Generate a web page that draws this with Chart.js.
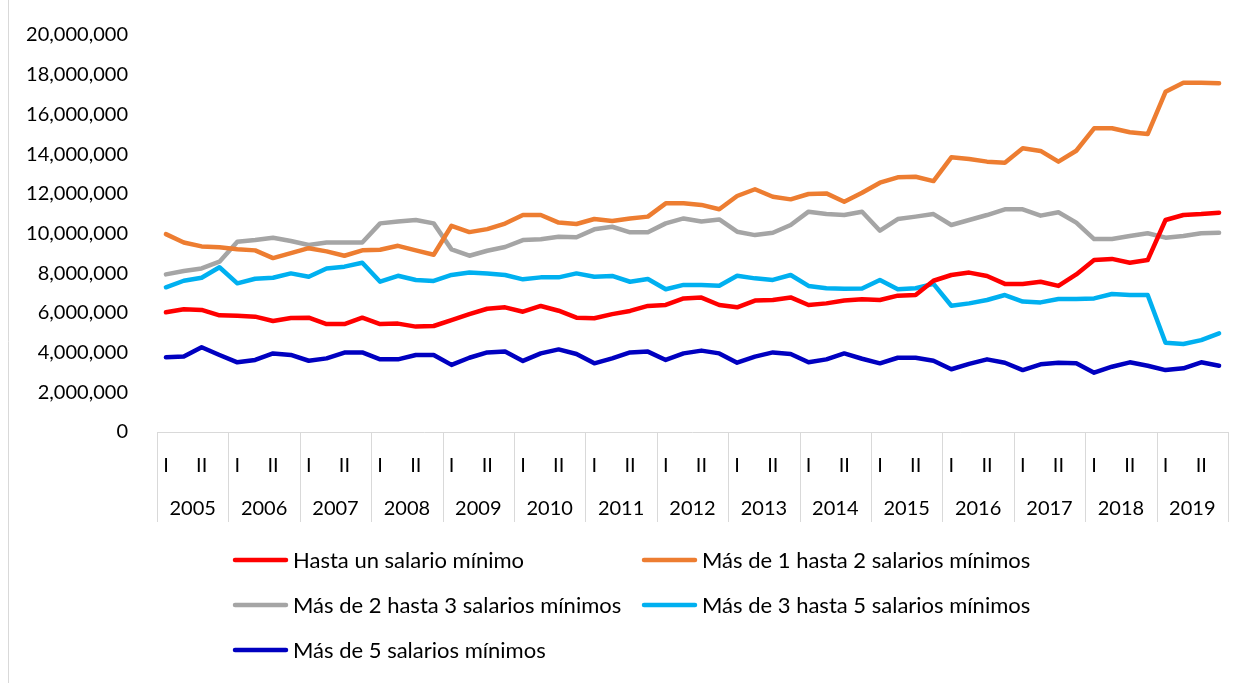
<!DOCTYPE html>
<html>
<head>
<meta charset="utf-8">
<script src="https://cdn.jsdelivr.net/npm/chart.js@4/dist/chart.umd.min.js"></script>
<style>
  html, body { margin: 0; padding: 0; background: #fff; }
  #wrap { position: relative; width: 1253px; height: 683px; }
</style>
</head>
<body>
<div id="wrap"><canvas id="c" width="1253" height="683"></canvas></div>
<script>
// ---- Data ----
const years = ["2005","2006","2007","2008","2009","2010","2011","2012","2013","2014","2015","2016","2017","2018","2019"];
const periodLabels = ["I", "", "II", ""];
const seriesNames = [
  "Hasta un salario mínimo",
  "Más de 1 hasta 2 salarios mínimos",
  "Más de 2 hasta 3 salarios mínimos",
  "Más de 3 hasta 5 salarios mínimos",
  "Más de 5 salarios mínimos"
];
const hastaUno = [
  6030000, 6180000, 6150000, 5880000, 5860000, 5810000, 5590000, 5740000, 5760000, 5440000,
  5440000, 5760000, 5440000, 5460000, 5310000, 5340000, 5640000, 5940000, 6210000, 6280000,
  6060000, 6350000, 6110000, 5760000, 5730000, 5940000, 6100000, 6350000, 6400000, 6730000,
  6770000, 6400000, 6280000, 6620000, 6650000, 6780000, 6400000, 6480000, 6620000, 6690000,
  6650000, 6870000, 6900000, 7620000, 7910000, 8030000, 7860000, 7460000, 7460000, 7570000,
  7360000, 7940000, 8660000, 8720000, 8530000, 8660000, 10680000, 10930000, 10980000, 11050000
];
const unoADos = [
  9970000, 9550000, 9350000, 9310000, 9210000, 9150000, 8760000, 9010000, 9260000, 9100000,
  8880000, 9150000, 9180000, 9380000, 9150000, 8930000, 10390000, 10070000, 10220000, 10500000,
  10930000, 10930000, 10550000, 10480000, 10730000, 10630000, 10760000, 10850000, 11520000, 11520000,
  11440000, 11220000, 11890000, 12230000, 11850000, 11720000, 11990000, 12020000, 11600000, 12050000,
  12560000, 12830000, 12860000, 12640000, 13840000, 13750000, 13620000, 13570000, 14290000, 14160000,
  13620000, 14170000, 15300000, 15300000, 15100000, 15010000, 17140000, 17600000, 17600000, 17570000
];
const dosATres = [
  7940000, 8110000, 8240000, 8580000, 9590000, 9670000, 9790000, 9620000, 9420000, 9550000,
  9550000, 9550000, 10510000, 10600000, 10680000, 10510000, 9200000, 8880000, 9130000, 9320000,
  9670000, 9710000, 9840000, 9810000, 10210000, 10340000, 10060000, 10060000, 10510000, 10760000,
  10600000, 10710000, 10090000, 9920000, 10040000, 10430000, 11100000, 10980000, 10930000, 11100000,
  10140000, 10730000, 10850000, 10980000, 10430000, 10680000, 10930000, 11220000, 11220000, 10900000,
  11070000, 10550000, 9720000, 9720000, 9870000, 10010000, 9790000, 9870000, 10010000, 10040000
];
const tresACinco = [
  7290000, 7620000, 7770000, 8300000, 7490000, 7720000, 7770000, 7990000, 7820000, 8240000,
  8330000, 8530000, 7570000, 7870000, 7660000, 7610000, 7910000, 8030000, 7990000, 7910000,
  7690000, 7790000, 7790000, 7990000, 7820000, 7860000, 7570000, 7710000, 7190000, 7410000,
  7410000, 7370000, 7870000, 7740000, 7660000, 7910000, 7360000, 7240000, 7220000, 7230000,
  7660000, 7190000, 7240000, 7460000, 6360000, 6480000, 6650000, 6900000, 6570000, 6530000,
  6700000, 6700000, 6730000, 6950000, 6900000, 6900000, 4500000, 4430000, 4630000, 4970000
];
const masDeCinco = [
  3760000, 3800000, 4270000, 3880000, 3510000, 3630000, 3960000, 3880000, 3590000, 3710000,
  4000000, 4010000, 3660000, 3660000, 3880000, 3880000, 3380000, 3740000, 4010000, 4050000,
  3580000, 3960000, 4160000, 3930000, 3460000, 3710000, 4010000, 4050000, 3630000, 3960000,
  4100000, 3960000, 3490000, 3800000, 4010000, 3930000, 3510000, 3660000, 3960000, 3690000,
  3460000, 3740000, 3740000, 3590000, 3160000, 3430000, 3660000, 3490000, 3120000, 3410000,
  3490000, 3460000, 2990000, 3290000, 3510000, 3340000, 3120000, 3210000, 3510000, 3340000
];
const yTicks = [0, 2000000, 4000000, 6000000, 8000000, 10000000, 12000000, 14000000, 16000000, 18000000, 20000000];

// ---- Build labels (one per quarter) ----
const labels = [];
years.forEach(function (y) { periodLabels.forEach(function (p) { labels.push(p); }); });

const colors = ["#FF0000", "#ED7D31", "#A5A5A5", "#00B0F0", "#0000C0"];
const values = [hastaUno, unoADos, dosATres, tresACinco, masDeCinco];

const FONT = "Lato";
const FS = 20;
const LEG_FS = 22;
const PLOT_TOP = 35;

const decorPlugin = {
  id: "decor",
  afterLayout(chart) {
    const ys = chart.scales.y;
    const ca = chart.chartArea;
    if (ys && ys.top !== PLOT_TOP) {
      ys.top = PLOT_TOP;
      ys.height = ys.bottom - PLOT_TOP;
      ys.configure();
      ca.top = PLOT_TOP;
      ca.height = ca.bottom - PLOT_TOP;
    }
  },
  beforeDatasetsDraw(chart) {
    const ctx = chart.ctx;
    const ca = chart.chartArea;
    const xs = chart.scales.x;
    ctx.save();
    ctx.strokeStyle = "#d9d9d9";
    ctx.lineWidth = 1;
    ctx.beginPath();
    ctx.moveTo(8.5, 0);
    ctx.lineTo(8.5, 683);
    ctx.stroke();
    ctx.beginPath();
    ctx.moveTo(ca.left, Math.round(ca.bottom) + 0.5);
    ctx.lineTo(ca.right, Math.round(ca.bottom) + 0.5);
    ctx.stroke();
    const n = periodLabels.length;
    const bounds = [];
    for (let k = 0; k <= years.length; k++) {
      let x;
      if (k === 0) x = ca.left;
      else if (k === years.length) x = ca.right;
      else x = (xs.getPixelForValue(k * n - 1) + xs.getPixelForValue(k * n)) / 2;
      bounds.push(x);
      ctx.beginPath();
      ctx.moveTo(Math.round(x) + 0.5, ca.bottom);
      ctx.lineTo(Math.round(x) + 0.5, ca.bottom + 90);
      ctx.stroke();
    }
    ctx.fillStyle = "#000";
    ctx.font = FS + "px " + FONT;
    ctx.textAlign = "center";
    ctx.textBaseline = "middle";
    for (let k = 0; k < years.length; k++) {
      ctx.fillText(years[k], (bounds[k] + bounds[k + 1]) / 2, ca.bottom + 77);
    }
    ctx.restore();
  },
  afterDraw(chart) {
    const ctx = chart.ctx;
    ctx.save();
    const cols = [233, 642];
    const rows = [560, 605, 650];
    ctx.font = LEG_FS + "px " + FONT;
    ctx.textBaseline = "middle";
    ctx.textAlign = "left";
    chart.data.datasets.forEach(function (ds, i) {
      const cx = cols[i % 2];
      const cy = rows[Math.floor(i / 2)];
      ctx.strokeStyle = ds.borderColor;
      ctx.lineWidth = 4.5;
      ctx.lineCap = "round";
      ctx.beginPath();
      ctx.moveTo(cx + 2, cy);
      ctx.lineTo(cx + 53, cy);
      ctx.stroke();
      ctx.fillStyle = "#000";
      ctx.fillText(ds.label, cx + 60, cy + 1);
    });
    ctx.restore();
  }
};

new Chart(document.getElementById("c"), {
  type: "line",
  data: {
    labels: labels,
    datasets: seriesNames.map(function (name, i) {
      return {
        label: name,
        data: values[i],
        borderColor: colors[i],
        backgroundColor: colors[i],
        borderWidth: 4.5,
        pointRadius: 0,
        tension: 0,
        borderCapStyle: "round",
        borderJoinStyle: "round",
        fill: false
      };
    })
  },
  options: {
    responsive: false,
    animation: false,
    devicePixelRatio: 1,
    layout: { padding: { top: 25, right: 25, left: 0, bottom: 0 } },
    plugins: { legend: { display: false }, tooltip: { enabled: false } },
    scales: {
      x: {
        type: "category",
        offset: true,
        grid: { display: false, drawTicks: false },
        border: { display: false },
        ticks: {
          autoSkip: false, maxRotation: 0, minRotation: 0, padding: 22,
          color: "#000", font: { family: FONT, size: FS }
        },
        afterFit: function (s) { s.height = 683 - 432; }
      },
      y: {
        min: 0, max: 20000000,
        afterBuildTicks: function (s) { s.ticks = yTicks.map(function (v) { return { value: v }; }); },
        grid: { display: false, drawTicks: false },
        border: { display: false },
        ticks: {
          padding: 29, color: "#000", font: { family: FONT, size: FS },
          callback: function (v) { return Number(v).toLocaleString("en-US"); }
        },
        afterFit: function (s) { s.width = 157; }
      }
    }
  },
  plugins: [decorPlugin]
});
</script>
</body>
</html>
